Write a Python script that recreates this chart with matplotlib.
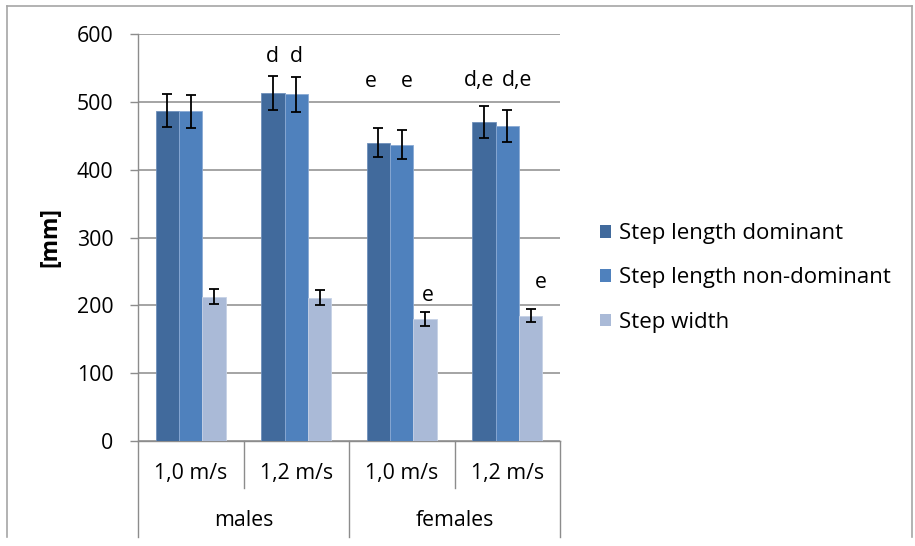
import matplotlib
matplotlib.use("Agg")
import matplotlib.pyplot as plt
import numpy as np
from matplotlib.lines import Line2D
from matplotlib.patches import Patch

plt.rcParams['font.family'] = ['Open Sans', 'DejaVu Sans']

speeds = ["1,0 m/s", "1,2 m/s", "1,0 m/s", "1,2 m/s"]
groups = ["males", "females"]
series = ["Step length dominant", "Step length non-dominant", "Step width"]
dominant = [487, 513, 440, 470]
dominant_err = [24, 25.5, 22, 24]
nondominant = [486, 511, 437, 465]
nondominant_err = [24, 26, 22, 23.5]
width_vals = [213, 211, 180, 185]
width_err = [11, 11, 10, 9.5]
# annotation: (label, category index, x offset in category units, y value)
annotations = [("d", 1, -0.223, 567), ("d", 1, 0.004, 567),
               ("e", 2, -0.294, 530), ("e", 2, 0.047, 530),
               ("d,e", 3, -0.268, 532), ("d,e", 3, 0.092, 532),
               ("e", 2, 0.246, 215), ("e", 3, 0.32, 233)]

colors = ["#416A9C", "#4F81BD", "#AABAD7"]
edge = ["#6F8FBA", "#8AAAD4", "#C6D2E6"]
grid_c = "#8C8C8C"
FS = 15.3

W, H = 915, 546
fig = plt.figure(figsize=(W / 100, H / 100), dpi=100)
L, R, T, B = 138, 560, 34, 441
ax = fig.add_axes([L / W, 1 - B / H, (R - L) / W, (B - T) / H])

n = len(speeds)
x = np.arange(n) + 0.5
bw = 1 / 4.5
vals = [dominant, nondominant, width_vals]
errs = [dominant_err, nondominant_err, width_err]
for k in range(3):
    ax.bar(x + (k - 1) * bw, vals[k], width=bw, color=colors[k], edgecolor=edge[k],
           linewidth=0.6, zorder=3, label=series[k])
    ax.errorbar(x + (k - 1) * bw, vals[k], yerr=errs[k], fmt='none', ecolor='black',
                elinewidth=1.3, capsize=3.8, capthick=1.3, zorder=4)

for lab, ci, off, yv in annotations:
    ax.text(x[ci] + off, yv, lab, ha='center', va='center', fontsize=FS, color='black')

ax.set_xlim(0, 4)
ax.set_ylim(0, 600)
ax.set_yticks(np.arange(0, 601, 100))
ax.yaxis.grid(True, color=grid_c, linewidth=1.1, zorder=0)
ax.set_axisbelow(True)
ax.set_xticks([])
ax.tick_params(axis='y', length=5.8, width=1.0, color=grid_c, pad=12, labelsize=FS)
for s in ['top', 'right']:
    ax.spines[s].set_visible(False)
ax.spines['left'].set_color(grid_c)
ax.spines['bottom'].set_color(grid_c)
ax.spines['left'].set_linewidth(1.0)
ax.spines['bottom'].set_linewidth(1.0)

ph = B - T
trans = ax.get_xaxis_transform()
for i in range(n + 1):
    low = -(537 - B) / ph if i % 2 == 0 else -(488 - B) / ph
    ax.add_line(Line2D([i, i], [0, low], transform=trans, color=grid_c, lw=1.0, clip_on=False))
for i, s in enumerate(speeds):
    ax.text(x[i], -(473 - B) / ph, s, transform=trans, ha='center', va='center', fontsize=FS)
for j, g in enumerate(groups):
    ax.text(2 * j + 1, -(520 - B) / ph, g, transform=trans, ha='center', va='center', fontsize=FS)

fig.text(50 / W, 1 - 237 / H, "[mm]", rotation=90, ha='center', va='center',
         fontsize=16.5, fontweight='bold')

handles = [Patch(facecolor=colors[k], edgecolor='none') for k in range(3)]
fig.legend(handles, series, loc='center left', bbox_to_anchor=(600 / W, 1 - 278 / H),
           frameon=False, fontsize=16, handlelength=0.48, handleheight=0.5,
           handletextpad=0.38, labelspacing=1.05, borderaxespad=0, borderpad=0)

# outer frame
fc = "#A6A6A6"
fig.add_artist(Line2D([7 / W, 7 / W], [1 - 537 / H, 1 - 6 / H], transform=fig.transFigure, color=fc, lw=1.2))
fig.add_artist(Line2D([7 / W, 912 / W], [1 - 6 / H, 1 - 6 / H], transform=fig.transFigure, color=fc, lw=1.2))
fig.add_artist(Line2D([912 / W, 912 / W], [1 - 537 / H, 1 - 6 / H], transform=fig.transFigure, color=fc, lw=1.2))

fig.savefig("out.png", dpi=100)
